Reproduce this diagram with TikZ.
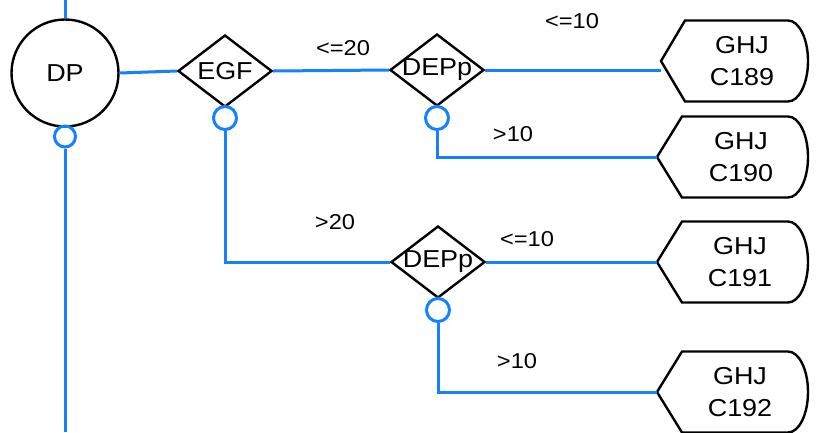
\documentclass[tikz,border=0pt]{standalone}
\usepackage{fontspec}
\setmainfont{Liberation Sans}[FakeStretch=1.1]
\usetikzlibrary{shapes.geometric,calc}
\definecolor{wireblue}{RGB}{20,130,255}
\begin{document}
\begin{tikzpicture}[x=1pt,y=-1pt,
  wire/.style={draw=wireblue,line width=3pt},
  outline/.style={draw=black,line width=2.4pt},
  bigtxt/.style={font=\fontsize{24.5}{32}\selectfont},
  lbl/.style={font=\fontsize{21.5}{25}\selectfont,inner sep=0pt},
  dia/.style={diamond,outline,minimum width=94pt,minimum height=72pt,inner sep=0pt,aspect=1.3,label={[bigtxt,inner sep=0pt]center:#1}},
  port/.style={circle,draw=wireblue,line width=3pt,minimum size=23pt,inner sep=0pt},
  ghjtext/.style={bigtxt,align=center,inner sep=0pt}
]
\fill[white] (0,0) rectangle (817,432);
\useasboundingbox (0,0) rectangle (817,432);

\node[circle,outline,minimum size=107pt,inner sep=0pt,bigtxt] (dp) at (65,73) {DP};
\node[dia=EGF] (egf) at (225,71) {};
\node[dia=DEPp] (d1) at (437,70) {};
\node[dia=DEPp] (d2) at (438,262) {};
\node[port,minimum size=21pt] (pdp) at (65,136.5) {};
\node[port] (pegf) at (225,118) {};
\node[port] (pd1) at (437,118) {};
\node[port] (pd2) at (438,310) {};

\node[ghjtext] (c189) at (742,61) {GHJ\\C189};
\draw[outline] (661,61) coordinate (c189in) -- ++(24,-40.5) -- ++(103,0) arc[start angle=-90,end angle=90,x radius=20,y radius=40.5] -- ++(-103,0) -- cycle;
\node[ghjtext] (c190) at (741,157) {GHJ\\C190};
\draw[outline] (657,157) coordinate (c190in) -- ++(25,-40.5) -- ++(106,0) arc[start angle=-90,end angle=90,x radius=20,y radius=40.5] -- ++(-106,0) -- cycle;
\node[ghjtext] (c191) at (740,262) {GHJ\\C191};
\draw[outline] (657,262) coordinate (c191in) -- ++(25,-40.5) -- ++(106,0) arc[start angle=-90,end angle=90,x radius=20,y radius=40.5] -- ++(-106,0) -- cycle;
\node[ghjtext] (c192) at (740,392) {GHJ\\C192};
\draw[outline] (657,392) coordinate (c192in) -- ++(25,-40.5) -- ++(106,0) arc[start angle=-90,end angle=90,x radius=20,y radius=40.5] -- ++(-106,0) -- cycle;

\coordinate (topend) at (65,0);
\coordinate (botend) at (65,432);
\draw[wire] (dp.north) -- (topend);
\draw[wire] (pdp.south) -- (botend);
\draw[wire] (dp.east) -- (egf.west);
\draw[wire] (egf.east) -- (d1.west);
\draw[wire] (pegf.south) |- (d2.west);
\draw[wire] (d1.east) -- (d1.east -| c189in);
\draw[wire] (pd1.south) |- (c190in);
\draw[wire] (d2.east) -- (c191in);
\draw[wire] (pd2.south) |- (c192in);

\node[lbl] (l1) at (343,48) {<=20};
\node[lbl] (l2) at (572,21) {<=10};
\node[lbl] (l3) at (513,134) {>10};
\node[lbl] (l4) at (335,222) {>20};
\node[lbl] (l5) at (527,239) {<=10};
\node[lbl] (l6) at (517,361) {>10};
\end{tikzpicture}
\end{document}
